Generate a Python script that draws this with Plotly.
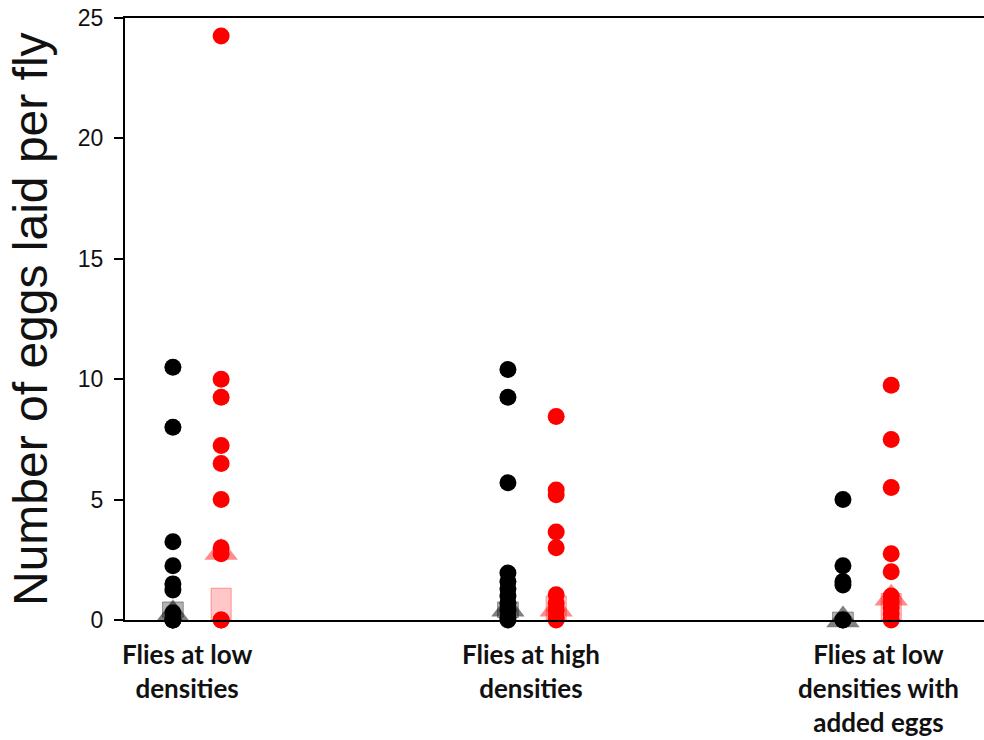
import plotly.graph_objects as go

# Treatment groups along the x axis
groups = ["Flies at low<br>densities",
          "Flies at high<br>densities",
          "Flies at low<br>densities with<br>added eggs"]
group_pos = [1, 2, 3]
pair_offset = 0.072

# Eggs laid per fly, individual observations
black_vals = [
    [10.5, 8.0, 3.25, 2.25, 1.5, 1.25, 0.3, 0, 0, 0],
    [10.4, 9.25, 5.7, 1.95, 1.6, 1.3, 1.0, 0.7, 0.4, 0.1, 0],
    [5.0, 2.25, 1.6, 1.45, 0, 0],
]
red_vals = [
    [24.25, 10.0, 9.25, 7.25, 6.5, 5.0, 3.0, 2.75, 0, 0],
    [8.45, 5.4, 5.2, 3.65, 3.0, 1.05, 0.7, 0.4, 0.1, 0],
    [9.75, 7.5, 5.5, 2.75, 2.0, 1.0, 0.75, 0.5, 0.25, 0],
]

# Summary marks per group: triangle value and box (low, high)
black_tri = [0.25, 0.45, 0.0]
red_tri = [2.8, 0.45, 0.9]
black_box_lo = [0.12, 0.1, -0.3]
black_box_hi = [0.75, 0.75, 0.33]
red_box_lo = [0.0, 0.0, 0.0]
red_box_hi = [1.32, 1.0, 1.1]

yticks = [0, 5, 10, 15, 20, 25]

fig = go.Figure()

bx = [p - pair_offset for p in group_pos]
rx = [p + pair_offset for p in group_pos]

# Boxes
fig.add_trace(go.Bar(
    x=bx, y=[h - l for l, h in zip(black_box_lo, black_box_hi)], base=black_box_lo,
    width=0.062, marker=dict(color="rgba(0,0,0,0.3)",
                             line=dict(color="rgba(0,0,0,0.35)", width=1)),
    showlegend=False, hoverinfo="skip"))
fig.add_trace(go.Bar(
    x=rx, y=[h - l for l, h in zip(red_box_lo, red_box_hi)], base=red_box_lo,
    width=0.06, marker=dict(color="rgba(255,0,0,0.22)",
                            line=dict(color="rgba(255,0,0,0.35)", width=1)),
    showlegend=False, hoverinfo="skip"))

# Individual points
for i, p in enumerate(group_pos):
    fig.add_trace(go.Scatter(
        x=[bx[i]] * len(black_vals[i]), y=black_vals[i], mode="markers",
        marker=dict(color="black", size=17, line=dict(width=0)),
        cliponaxis=False, showlegend=False))
    fig.add_trace(go.Scatter(
        x=[rx[i]] * len(red_vals[i]), y=red_vals[i], mode="markers",
        marker=dict(color="#ff0000", size=17, line=dict(width=0)),
        cliponaxis=False, showlegend=False))

# Triangles
fig.add_trace(go.Scatter(
    x=bx, y=black_tri, mode="markers",
    marker=dict(symbol="triangle-up", size=29, color="rgba(0,0,0,0.5)", line=dict(width=0)),
    cliponaxis=False, showlegend=False))
fig.add_trace(go.Scatter(
    x=rx, y=red_tri, mode="markers",
    marker=dict(symbol="triangle-up", size=29, color="rgba(255,0,0,0.45)", line=dict(width=0)),
    cliponaxis=False, showlegend=False))

# Group labels under the axis
label_x = [0.97, 1.997, 3.033]
for txt, xv in zip(groups, label_x):
    fig.add_annotation(x=xv, xref="x", y=0, yref="paper", yanchor="top", yshift=-16,
                       text="<b>" + txt + "</b>", showarrow=False, align="center",
                       font=dict(family="Lato", size=26, color="#111"))

fig.add_annotation(x=0, xref="paper", xanchor="center", y=0.5, yref="paper", xshift=-95,
                   text="Number of eggs laid per fly", textangle=-90, showarrow=False,
                   font=dict(family="Arial, Liberation Sans", size=48, color="#111"))

fig.update_layout(
    width=984, height=740, margin=dict(l=125, r=0, t=18, b=120),
    paper_bgcolor="white", plot_bgcolor="white", barmode="overlay",
    xaxis=dict(range=[0.785, 3.349], showticklabels=False, ticks="", showgrid=False,
               zeroline=False, showline=True, linecolor="black", linewidth=2, mirror=True),
    yaxis=dict(range=[0, 25], tickvals=yticks, ticks="outside", ticklen=9, tickwidth=2,
               tickcolor="black", showgrid=False, zeroline=False, showline=True,
               linecolor="black", linewidth=2, ticklabelstandoff=6,
               tickfont=dict(family="Arial, Liberation Sans", size=23, color="#111")),
)

fig.write_html("out.html")
